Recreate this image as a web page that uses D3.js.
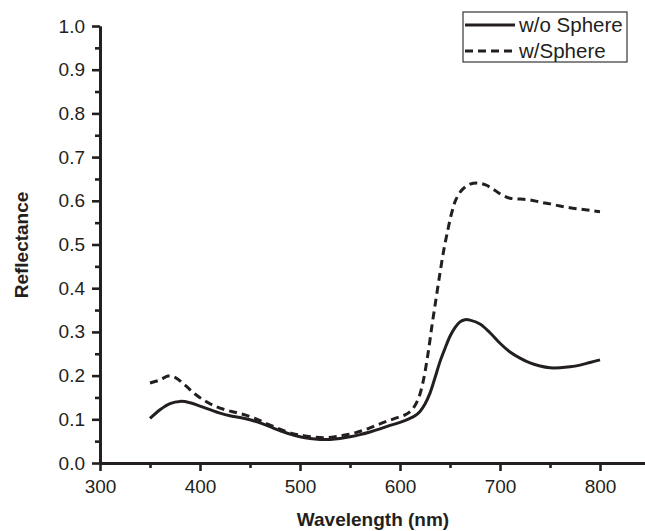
<!DOCTYPE html>
<html>
<head>
<meta charset="utf-8">
<script src="https://cdn.jsdelivr.net/npm/d3@7"></script>
<style>
  html, body { margin: 0; padding: 0; background: #fff; }
  svg { display: block; }
  text { font-family: "Liberation Sans", Arial, sans-serif; fill: #231f20; }
</style>
</head>
<body>
<svg id="chart" width="645" height="531"></svg>
<script>
// ---- data ----
const seriesNames = ["w/o Sphere", "w/Sphere"];
const woWavelength = [350,360,370,380,390,400,410,420,430,440,450,460,470,480,490,500,510,520,530,540,550,560,570,580,590,600,610,615,620,625,630,635,640,645,650,655,660,665,670,680,690,700,710,720,730,740,750,760,770,780,790,800];
const woReflectance = [0.102,0.122,0.136,0.141,0.138,0.130,0.122,0.114,0.108,0.104,0.099,0.092,0.083,0.074,0.066,0.060,0.056,0.054,0.054,0.056,0.060,0.065,0.071,0.078,0.086,0.093,0.102,0.108,0.118,0.135,0.160,0.195,0.232,0.262,0.290,0.310,0.323,0.328,0.327,0.318,0.298,0.274,0.254,0.240,0.229,0.222,0.218,0.218,0.220,0.224,0.230,0.236];
const wWavelength = [350,360,368,375,385,395,405,415,425,435,445,455,465,475,485,495,505,515,525,535,545,555,565,575,585,595,605,612,618,623,628,632,636,640,644,648,652,656,662,670,677,685,693,700,710,720,730,740,750,760,770,780,790,800];
const wReflectance = [0.183,0.190,0.199,0.196,0.178,0.158,0.142,0.130,0.122,0.116,0.110,0.102,0.092,0.082,0.073,0.066,0.062,0.059,0.058,0.060,0.064,0.069,0.076,0.085,0.094,0.102,0.110,0.122,0.145,0.185,0.250,0.315,0.375,0.435,0.490,0.535,0.575,0.603,0.625,0.638,0.641,0.637,0.627,0.616,0.606,0.604,0.602,0.597,0.593,0.588,0.584,0.581,0.578,0.575];
const xMajorTicks = [300,400,500,600,700,800];
const xMinorTicks = [350,450,550,650,750];
const yMajorTicks = [0.0,0.1,0.2,0.3,0.4,0.5,0.6,0.7,0.8,0.9,1.0];
const yMinorTicks = [0.05,0.15,0.25,0.35,0.45,0.55,0.65,0.75,0.85,0.95];
const xTitle = "Wavelength (nm)";
const yTitle = "Reflectance";

// ---- layout ----
const ink = "#231f20";
const svg = d3.select("#chart");
const x = d3.scaleLinear().domain([300, 845]).range([100, 645]);
const y = d3.scaleLinear().domain([0, 1]).range([463, 26]);

function styleAxis(g) {
  g.selectAll(".domain").attr("stroke", ink).attr("stroke-width", 2.8);
  g.selectAll(".tick line").attr("stroke", ink).attr("stroke-width", 2.6);
  g.selectAll(".tick text").style("font-size", "19px").attr("fill", ink);
}

// minor ticks
svg.append("g").attr("transform", "translate(0,463)")
  .call(d3.axisBottom(x).tickValues(xMinorTicks).tickSize(5).tickFormat("").tickSizeOuter(0))
  .call(styleAxis);
svg.append("g").attr("transform", "translate(100,0)")
  .call(d3.axisLeft(y).tickValues(yMinorTicks).tickSize(5).tickFormat("").tickSizeOuter(0))
  .call(styleAxis);

// major ticks
svg.append("g").attr("transform", "translate(0,463)")
  .call(d3.axisBottom(x).tickValues(xMajorTicks).tickSize(8).tickPadding(9).tickFormat(d3.format("d")).tickSizeOuter(0))
  .call(styleAxis);
svg.append("g").attr("transform", "translate(100,0)")
  .call(d3.axisLeft(y).tickValues(yMajorTicks).tickSize(8).tickPadding(7).tickFormat(d3.format(".1f")).tickSizeOuter(0))
  .call(styleAxis);

// titles
svg.append("text").attr("x", 373).attr("y", 526).attr("text-anchor", "middle")
  .style("font-size", "19px").style("font-weight", "bold").text(xTitle);
svg.append("text").attr("transform", "translate(28,245) rotate(-90)").attr("text-anchor", "middle")
  .style("font-size", "19px").style("font-weight", "bold").text(yTitle);

// lines
const line = d3.line().x(d => x(d[0])).y(d => y(d[1])).curve(d3.curveCatmullRom.alpha(0.5));
const woData = d3.zip(woWavelength, woReflectance);
const wData = d3.zip(wWavelength, wReflectance);

svg.append("path").datum(woData).attr("d", line)
  .attr("fill", "none").attr("stroke", ink).attr("stroke-width", 3);
svg.append("path").datum(wData).attr("d", line)
  .attr("fill", "none").attr("stroke", ink).attr("stroke-width", 3)
  .attr("stroke-dasharray", "8,5");

// legend
const lg = svg.append("g");
lg.append("rect").attr("x", 463).attr("y", 12).attr("width", 164).attr("height", 50)
  .attr("fill", "#fff").attr("stroke", "#444").attr("stroke-width", 1.3);
const rows = [{name: seriesNames[0], dash: null, yy: 25}, {name: seriesNames[1], dash: "8,5", yy: 51}];
rows.forEach(r => {
  lg.append("line").attr("x1", 465).attr("x2", 515).attr("y1", r.yy).attr("y2", r.yy)
    .attr("stroke", ink).attr("stroke-width", 3).attr("stroke-dasharray", r.dash);
  lg.append("text").attr("x", 519).attr("y", r.yy + 7).style("font-size", "20.5px").text(r.name);
});
</script>
</body>
</html>
